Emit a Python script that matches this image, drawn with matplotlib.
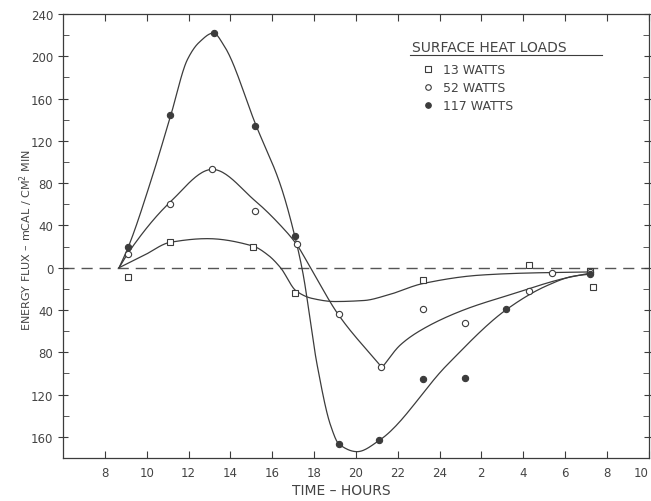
import numpy as np
import matplotlib.pyplot as plt
from matplotlib.ticker import MultipleLocator, FixedLocator

# measured points (hour of day, continuing past 24 into the next morning)
hours_13 = [9.1, 11.1, 15.1, 17.1, 23.2, 28.3, 31.2, 31.35]
flux_13 = [-9, 24, 20, -24, -12, 3, -3, -18]

hours_52 = [9.1, 11.1, 13.1, 15.2, 17.2, 19.2, 21.2, 23.2, 25.2, 28.3, 29.4, 31.2]
flux_52 = [13, 60, 93, 54, 22, -44, -94, -39, -52, -22, -5, -4]

hours_117 = [9.1, 11.1, 13.2, 15.2, 17.1, 19.2, 21.1, 23.2, 25.2, 27.2, 31.2]
flux_117 = [20, 144, 222, 134, 30, -167, -163, -105, -104, -39, -6]

# hand drawn curves, knots
curve_13_h = [8.68, 9.9, 11.12, 12.9, 15.08, 15.8, 16.4, 17.15, 17.9, 19.0, 20.4,
              21.5, 23.2, 25.95, 28.26, 31.23]
curve_13_v = [0, 12, 24, 27.5, 20.5, 12, 0, -22, -29, -32, -31,
              -26, -15, -7, -5, -4]

curve_52a_h = [8.68, 9.08, 11.12, 13.14, 15.2, 16.4, 17.17, 17.83, 19.15, 21.25]
curve_52a_v = [0, 13, 62, 93, 63, 40, 22, 0, -44, -94.5]
curve_52b_h = [21.25, 22.13, 23.24, 25.15, 27.53, 29.9, 31.23]
curve_52b_v = [-94.5, -73, -57.6, -40, -24.6, -10.4, -5]

curve_117_h = [8.68, 9.13, 10.2, 11.15, 11.95, 12.5, 13.19, 13.7, 15.24, 16.4, 17.08,
               17.45, 18.15, 18.79, 19.2, 20.06, 21.14, 24.36, 27.24, 29.13, 30.4, 31.23]
curve_117_v = [0, 20, 82, 144, 197, 213, 222, 210, 134, 78, 30,
               -3, -92, -149, -167, -174, -163, -92, -39, -17, -8, -6]

x_ticks = list(range(8, 35, 2))
x_labels = [str(h if h <= 24 else h - 24) for h in x_ticks]
y_ticks = list(range(-160, 241, 40))
y_labels = [str(abs(v)) for v in y_ticks]

legend_labels = ["13 WATTS", "52 WATTS", "117 WATTS"]

INK = "#3c3c3c"
TXT = "#444444"


def smooth(xs, ys, n=25):
    """monotone cubic (fritsch-carlson) through the knots, just for drawing"""
    x = np.asarray(xs, float)
    y = np.asarray(ys, float)
    h = np.diff(x)
    d = np.diff(y) / h
    m = np.zeros_like(y)
    m[0], m[-1] = d[0], d[-1]
    for k in range(1, len(x) - 1):
        if d[k - 1] * d[k] > 0:
            w1 = 2 * h[k] + h[k - 1]
            w2 = h[k] + 2 * h[k - 1]
            m[k] = (w1 + w2) / (w1 / d[k - 1] + w2 / d[k])
    px, py = [], []
    for k in range(len(x) - 1):
        t = np.linspace(0, 1, n, endpoint=False)
        h00 = 2 * t**3 - 3 * t**2 + 1
        h10 = t**3 - 2 * t**2 + t
        h01 = -2 * t**3 + 3 * t**2
        h11 = t**3 - t**2
        px.append(x[k] + t * h[k])
        py.append(h00 * y[k] + h10 * h[k] * m[k] + h01 * y[k + 1] + h11 * h[k] * m[k + 1])
    px.append([x[-1]])
    py.append([y[-1]])
    return np.concatenate(px), np.concatenate(py)


W, H = 651, 502
fig = plt.figure(figsize=(W / 100, H / 100), dpi=100)
ax = fig.add_axes([63 / W, 1 - 459 / H, 585.7 / W, 444 / H])

ax.axhline(0, color="#555555", lw=1.0, dashes=(8, 5), zorder=1)

for hx, vy in [(curve_13_h, curve_13_v), (curve_52a_h, curve_52a_v),
               (curve_52b_h, curve_52b_v), (curve_117_h, curve_117_v)]:
    sx, sy = smooth(hx, vy)
    ax.plot(sx, sy, color=INK, lw=0.9, zorder=2)

ax.plot(hours_13, flux_13, ls="none", marker="s", ms=5, mfc="white", mec=INK, mew=0.8, zorder=3)
ax.plot(hours_52, flux_52, ls="none", marker="o", ms=4.5, mfc="white", mec=INK, mew=0.8, zorder=3)
ax.plot(hours_117, flux_117, ls="none", marker="o", ms=4.5, mfc=INK, mec=INK, mew=0.8, zorder=3)

ax.set_xlim(6, 34)
ax.set_ylim(-180, 240)
ax.xaxis.set_major_locator(FixedLocator(x_ticks))
ax.set_xticklabels(x_labels)
ax.xaxis.get_ticklabels()[-1].set_horizontalalignment("right")
ax.yaxis.set_major_locator(FixedLocator(y_ticks))
ax.set_yticklabels(y_labels)
ax.yaxis.set_minor_locator(MultipleLocator(20))

ax.tick_params(axis="both", which="both", colors=INK, labelcolor=TXT, labelsize=8.5)
ax.tick_params(axis="x", which="major", direction="in", length=5, top=True, pad=6)
ax.tick_params(axis="y", which="major", direction="inout", length=7, right=True)
ax.tick_params(axis="y", which="minor", direction="in", length=4, right=True)
for s in ax.spines.values():
    s.set_color(INK)
    s.set_linewidth(0.9)

fig.text(26 / W, 1 - 240 / H, "ENERGY FLUX – mCAL / CM$^2$ MIN", rotation=90,
         ha="center", va="center", fontsize=8, color=TXT)
fig.text(341 / W, 1 - 491 / H, "TIME – HOURS", ha="center", va="center",
         fontsize=10, color=TXT)

# legend block
fig.text(412 / W, 1 - 48 / H, "SURFACE HEAT LOADS", ha="left", va="center",
         fontsize=10, color=TXT)
fig.add_artist(plt.Line2D([410 / W, 602 / W], [1 - 56 / H, 1 - 56 / H],
                          color=INK, lw=0.8))
legend_marks = [("s", "white"), ("o", "white"), ("o", INK)]
for i, (lab, (mk, fc)) in enumerate(zip(legend_labels, legend_marks)):
    yy = 1 - (70 + 18 * i) / H
    fig.add_artist(plt.Line2D([428 / W], [yy], ls="none", marker=mk, ms=4.5 if mk == "s" else 4,
                              mfc=fc, mec=INK, mew=0.8))
    fig.text(443 / W, yy, lab, ha="left", va="center", fontsize=9, color=TXT)

fig.savefig("out.png", dpi=100, facecolor="white")
